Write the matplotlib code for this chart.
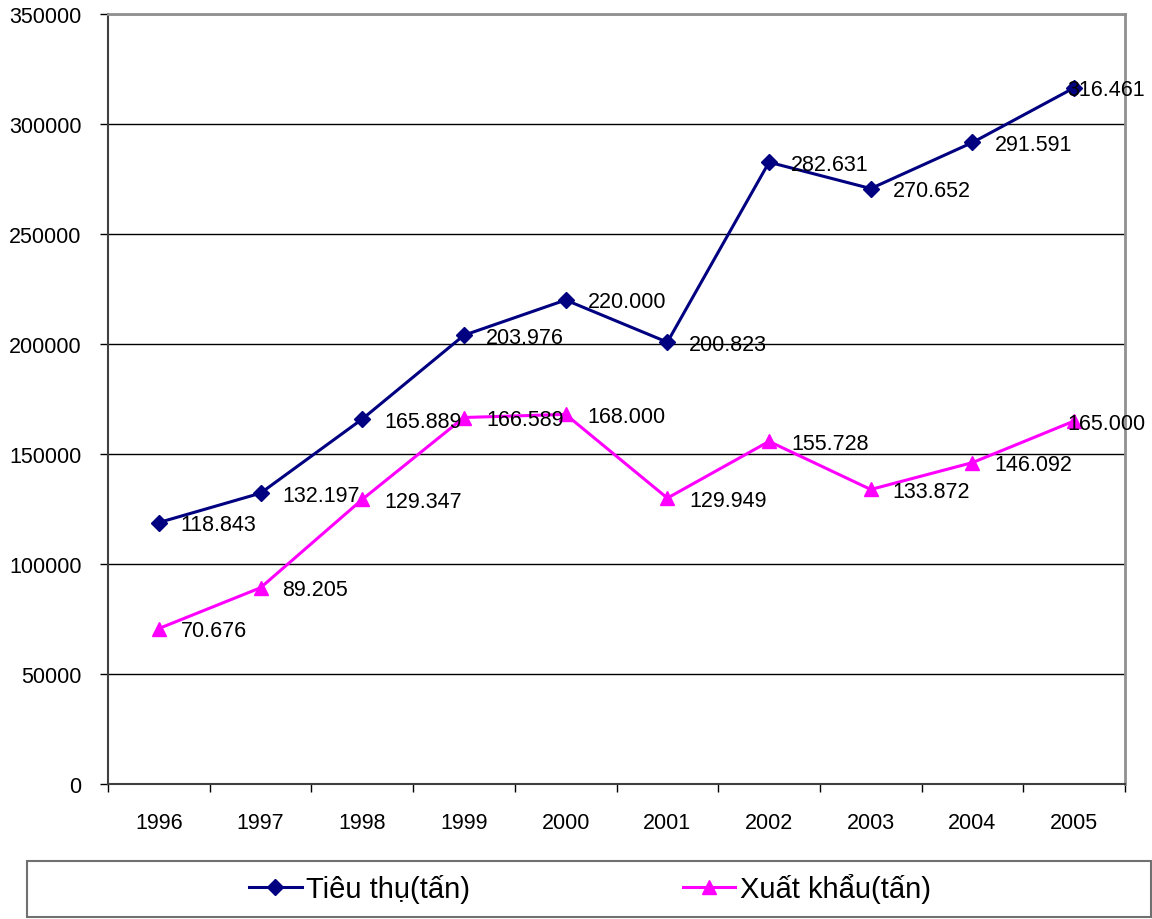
import matplotlib
matplotlib.use('Agg')
import matplotlib.pyplot as plt
from matplotlib.patches import Rectangle
from matplotlib.ticker import FixedLocator, NullFormatter

plt.rcParams['font.family'] = ['Liberation Sans', 'DejaVu Sans']

years = ['1996', '1997', '1998', '1999', '2000', '2001', '2002', '2003', '2004', '2005']
tieu_thu = [118843, 132197, 165889, 203976, 220000, 200823, 282631, 270652, 291591, 316461]
xuat_khau = [70676, 89205, 129347, 166589, 168000, 129949, 155728, 133872, 146092, 165000]
tieu_thu_lbl = ['118.843', '132.197', '165.889', '203.976', '220.000', '200.823',
                '282.631', '270.652', '291.591', '316.461']
xuat_khau_lbl = ['70.676', '89.205', '129.347', '166.589', '168.000', '129.949',
                 '155.728', '133.872', '146.092', '165.000']

fig = plt.figure(figsize=(11.52, 9.2), dpi=100)
ax = fig.add_axes([108/1152, 1-785/920, (1125-108)/1152, (785-15)/920])

x = list(range(len(years)))
l1, = ax.plot(x, tieu_thu, color='#000080', lw=2.2, marker='D', ms=8,
              label='Tiêu thụ(tấn)', zorder=3)
l2, = ax.plot(x, xuat_khau, color='#FF00FF', lw=2.2, marker='^', ms=10,
              label='Xuất khẩu(tấn)', zorder=3)

# value labels, right of the point (last one pulled back inside)
for vals, lbls in [(tieu_thu, tieu_thu_lbl), (xuat_khau, xuat_khau_lbl)]:
    for i, (v, s) in enumerate(zip(vals, lbls)):
        dx = 22 if i < len(vals) - 1 else -7
        ax.annotate(s, (i, v), xytext=(dx * 0.72, -2 * 0.72), textcoords='offset points',
                    ha='left', va='center', fontsize=15.5, zorder=4)

ax.set_xlim(-0.5, 9.5)
ax.set_ylim(0, 350000)
ax.set_yticks(range(0, 350001, 50000))
ax.set_yticklabels([str(v) for v in range(0, 350001, 50000)])
ax.yaxis.grid(True, color='black', lw=1)
ax.set_axisbelow(True)

ax.xaxis.set_major_locator(FixedLocator([i - 0.5 for i in range(11)]))
ax.xaxis.set_major_formatter(NullFormatter())
ax.xaxis.set_minor_locator(FixedLocator(x))
ax.set_xticklabels(years, minor=True)
ax.tick_params(axis='x', which='major', length=6, width=1, direction='out')
ax.tick_params(axis='x', which='minor', length=0, pad=20, labelsize=15.5)
ax.tick_params(axis='y', length=6, width=1, direction='out', pad=13, labelsize=15.5)

for side in ['left', 'bottom']:
    ax.spines[side].set_color('#404040')
    ax.spines[side].set_linewidth(1.5)
for side in ['top', 'right']:
    ax.spines[side].set_color('#909090')
    ax.spines[side].set_linewidth(2)

# legend box at the bottom
fig.patches.append(Rectangle((27/1152, 2/920), (1151-27)/1152, (918-862)/920,
                             transform=fig.transFigure, fill=False,
                             edgecolor='#707070', lw=1.5))
fig.legend(handles=[l1, l2], loc='center', bbox_to_anchor=(590/1152, 1-889/920),
           ncol=2, frameon=False, fontsize=21, handlelength=1.8, handletextpad=0.15,
           columnspacing=7.3)

fig.savefig('out.png', dpi=100)
